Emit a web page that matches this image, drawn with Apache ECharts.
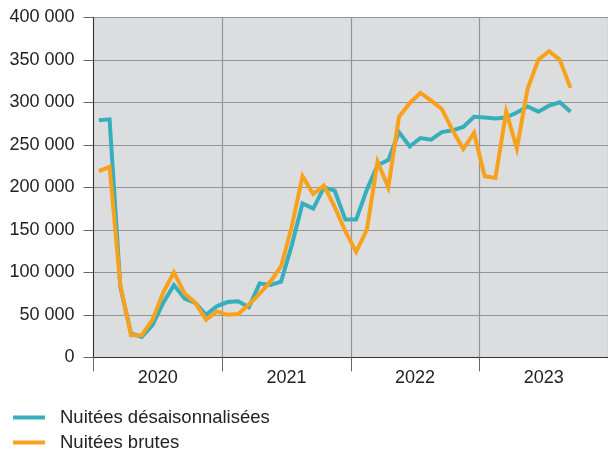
<!DOCTYPE html>
<html>
<head>
<meta charset="utf-8">
<script src="https://cdn.jsdelivr.net/npm/echarts@6/dist/echarts.min.js"></script>
<style>
html,body{margin:0;padding:0;background:#fff;}
#chart{width:608px;height:452px;}
</style>
</head>
<body>
<div id="chart"></div>
<script>
const years = ['2020', '2021', '2022', '2023'];
const months = [];
years.forEach(function (y) { for (let m = 1; m <= 12; m++) months.push(y + '-' + (m < 10 ? '0' + m : m)); });

const seriesNames = ['Nuitées désaisonnalisées', 'Nuitées brutes'];

const desaisonnalisees = [
  279000, 280000, 83000, 28000, 24000, 38000, 64000, 85000, 69000, 64000, 50000, 60000,
  65000, 66000, 59000, 87000, 85000, 89000, 132000, 181000, 175000, 200000, 196000, 162000,
  162000, 197000, 226000, 232000, 265000, 248000, 258000, 256000, 265000, 267000, 271000, 283000,
  282000, 281000, 282000, 288000, 295000, 289000, 296000, 300000, 289000
];

const brutes = [
  219000, 224000, 85000, 26000, 26000, 44000, 76000, 100000, 75000, 64000, 44000, 54000,
  50000, 51000, 62000, 75000, 89000, 107000, 154000, 213000, 192000, 202000, 177000, 148000,
  124000, 150000, 230000, 200000, 283000, 299000, 311000, 302000, 292000, 267000, 245000, 264000,
  213000, 211000, 289000, 246000, 316000, 350000, 360000, 350000, 317000
];

const yTicks = { min: 0, max: 400000, interval: 50000 };

const chart = echarts.init(document.getElementById('chart'), null, { renderer: 'canvas' });
const font = 'Liberation Sans, Arial, sans-serif';

function legendAt(name, top) {
  return {
    orient: 'horizontal', left: 13, top: top, padding: 0,
    itemWidth: 32, itemHeight: 4,
    icon: 'rect',
    textStyle: { fontSize: 18.5, color: '#222', fontFamily: font, padding: [0, 0, 0, 10] },
    data: [name]
  };
}

chart.setOption({
  animation: false,
  textStyle: { fontFamily: font },
  grid: {
    left: 93.5, top: 17.3, width: 518, height: 340,
    show: true, backgroundColor: '#dcdddf', borderWidth: 0
  },
  legend: [legendAt(seriesNames[0], 408), legendAt(seriesNames[1], 433)],
  xAxis: [
    {
      type: 'category', data: months, boundaryGap: true, show: false, gridIndex: 0
    },
    {
      type: 'category', data: years, boundaryGap: true, position: 'bottom', gridIndex: 0,
      axisLine: { show: true, lineStyle: { color: '#333', width: 1 } },
      axisTick: { show: true, length: 14, interval: 0, lineStyle: { color: '#666', width: 1 } },
      axisLabel: { fontSize: 18, color: '#222', margin: 12, fontFamily: font },
      splitLine: { show: true, interval: 0, lineStyle: { color: '#949494', width: 1.2 } }
    }
  ],
  yAxis: {
    type: 'value', min: yTicks.min, max: yTicks.max, interval: yTicks.interval,
    axisLine: { show: true, lineStyle: { color: '#333', width: 1 } },
    axisTick: { show: true, length: 10, lineStyle: { color: '#666' } },
    axisLabel: {
      fontSize: 18, color: '#222', margin: 19, fontFamily: font,
      formatter: function (v) { return String(v).replace(/\B(?=(\d{3})+(?!\d))/g, ' '); }
    },
    splitLine: { show: true, lineStyle: { color: '#949494', width: 1.2 } }
  },
  series: [
    {
      name: seriesNames[0], type: 'line', xAxisIndex: 0, data: desaisonnalisees,
      symbol: 'none', lineStyle: { width: 4, color: '#36afbc', join: 'miter' },
      itemStyle: { color: '#36afbc' }
    },
    {
      name: seriesNames[1], type: 'line', xAxisIndex: 0, data: brutes,
      symbol: 'none', lineStyle: { width: 4, color: '#f7a11c', join: 'miter' },
      itemStyle: { color: '#f7a11c' }
    }
  ]
});
</script>
</body>
</html>
